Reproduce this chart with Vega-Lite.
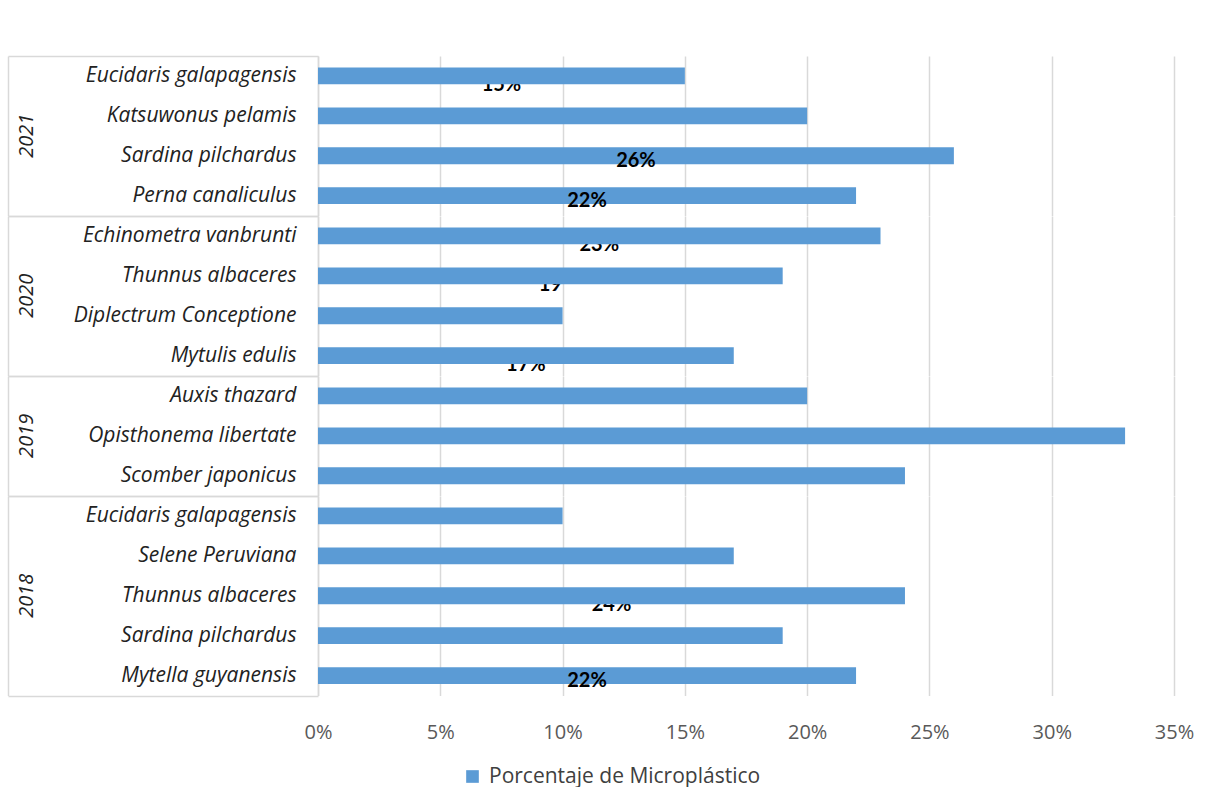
{
  "$schema": "https://vega.github.io/schema/vega-lite/v6.json",
  "background": "white",
  "padding": {"left": 7, "top": 45, "right": 0, "bottom": 0},
  "bounds": "flush",
  "data": {
    "values": [
      {"anio": 2021, "especie": "Eucidaris galapagensis", "valor": 15, "etiqueta": "15%"},
      {"anio": 2021, "especie": "Katsuwonus pelamis", "valor": 20, "etiqueta": null},
      {"anio": 2021, "especie": "Sardina pilchardus", "valor": 26, "etiqueta": "26%"},
      {"anio": 2021, "especie": "Perna canaliculus", "valor": 22, "etiqueta": "22%"},
      {"anio": 2020, "especie": "Echinometra vanbrunti", "valor": 23, "etiqueta": "23%"},
      {"anio": 2020, "especie": "Thunnus albaceres", "valor": 19, "etiqueta": "19"},
      {"anio": 2020, "especie": "Diplectrum Conceptione", "valor": 10, "etiqueta": null},
      {"anio": 2020, "especie": "Mytulis edulis", "valor": 17, "etiqueta": "17%"},
      {"anio": 2019, "especie": "Auxis thazard", "valor": 20, "etiqueta": null},
      {"anio": 2019, "especie": "Opisthonema libertate", "valor": 33, "etiqueta": null},
      {"anio": 2019, "especie": "Scomber japonicus", "valor": 24, "etiqueta": null},
      {"anio": 2018, "especie": "Eucidaris galapagensis", "valor": 10, "etiqueta": null},
      {"anio": 2018, "especie": "Selene Peruviana", "valor": 17, "etiqueta": null},
      {"anio": 2018, "especie": "Thunnus albaceres", "valor": 24, "etiqueta": "24%"},
      {"anio": 2018, "especie": "Sardina pilchardus", "valor": 19, "etiqueta": null},
      {"anio": 2018, "especie": "Mytella guyanensis", "valor": 22, "etiqueta": "22%"}
    ]
  },
  "facet": {
    "row": {
      "field": "anio",
      "type": "ordinal",
      "sort": "descending",
      "header": {
        "title": null,
        "labelOrient": "left",
        "labelAngle": -90,
        "labelAlign": "center",
        "labelFont": "Open Sans",
        "labelFontStyle": "italic",
        "labelFontSize": 20,
        "labelColor": "#222222",
        "labelPadding": 271
      }
    }
  },
  "spacing": {"row": 0},
  "resolve": {"scale": {"y": "independent"}},
  "spec": {
    "width": 856,
    "height": {"step": 39.9},
    "resolve": {"axis": {"y": "independent"}},
    "layer": [
      {
        "mark": {"type": "text", "font": "Lato", "fontWeight": "bold", "fontSize": 20, "color": "#000000", "baseline": "middle", "align": "center", "dy": 9},
        "encoding": {
          "y": {
            "field": "especie", "type": "nominal", "sort": null,
            "scale": {"paddingInner": 0, "paddingOuter": 0},
            "axis": {"orient": "left", "offset": 310, "labels": false, "ticks": false, "grid": false, "title": null, "domainColor": "#D9D9D9", "domainWidth": 1.5}
          },
          "x": {"field": "valor", "type": "quantitative", "stack": "zero", "bandPosition": 0.5},
          "text": {
            "condition": {"test": "datum.etiqueta != null && indexof(['26%', '22%'], datum.etiqueta) < 0", "field": "etiqueta"},
            "value": ""
          }
        }
      },
      {
        "mark": {"type": "bar", "height": {"band": 0.42}},
        "encoding": {
          "y": {
            "field": "especie", "type": "nominal", "sort": null,
            "axis": {
              "orient": "left",
              "title": null,
              "labelFont": "Open Sans",
              "labelFontStyle": "italic",
              "labelFontSize": 21,
              "labelColor": "#222222",
              "labelPadding": -288,
              "labelLimit": 300,
              "tickBand": "extent",
              "tickSize": 310,
              "tickColor": "#D9D9D9",
              "tickWidth": 1.5,
              "tickOpacity": {"condition": {"test": "datum.index == 1 || datum.index < 0 || datum.extra != null", "value": 1}, "value": 0},
              "domainColor": "#D9D9D9",
              "domainWidth": 1.5,
              "grid": false
            }
          },
          "x": {
            "field": "valor", "type": "quantitative",
            "scale": {"domain": [0, 35], "nice": false},
            "axis": {
              "title": null,
              "values": [0, 5, 10, 15, 20, 25, 30, 35],
              "labelExpr": "datum.value + '%'",
              "labelFont": "Open Sans",
              "labelFontSize": 20,
              "labelColor": "#595959",
              "labelPadding": 26,
              "labelFlush": false,
              "labelOverlap": false,
              "ticks": false,
              "domain": false,
              "grid": true,
              "gridColor": "#D9D9D9",
              "gridWidth": 1.5
            }
          },
          "color": {
            "datum": "Porcentaje de Microplástico",
            "type": "nominal",
            "scale": {"range": ["#5B9BD5"]},
            "legend": {
              "title": null,
              "orient": "none",
              "legendX": 144,
              "legendY": 710,
              "symbolType": "square",
              "symbolSize": 160,
              "symbolStrokeWidth": 0,
              "labelFont": "Open Sans",
              "labelFontSize": 21,
              "labelOffset": 6,
              "labelLimit": 400,
              "labelColor": "#404040"
            }
          }
        }
      },
      {
        "mark": {"type": "text", "font": "Lato", "fontWeight": "bold", "fontSize": 20, "color": "#000000", "baseline": "middle", "align": "center", "dy": 5},
        "encoding": {
          "y": {"field": "especie", "type": "nominal", "sort": null, "axis": null},
          "x": {"field": "valor", "type": "quantitative", "stack": "zero", "bandPosition": 0.5},
          "text": {
            "condition": {"test": "indexof(['26%', '22%'], datum.etiqueta) >= 0", "field": "etiqueta"},
            "value": ""
          }
        }
      }
    ]
  },
  "config": {
    "view": {"stroke": null}
  }
}
